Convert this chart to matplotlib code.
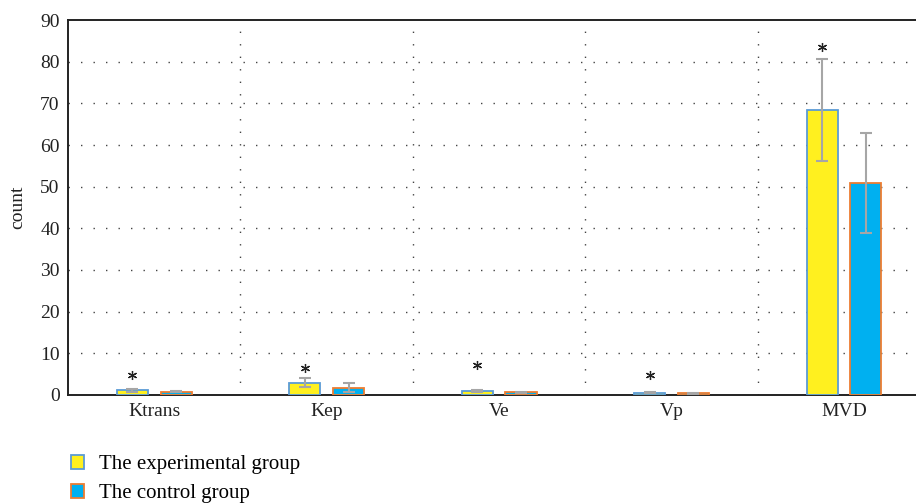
import numpy as np
import matplotlib.pyplot as plt
from matplotlib.patches import Patch

plt.rcParams['font.family'] = ['Liberation Serif', 'DejaVu Serif']

categories = ['Ktrans', 'Kep', 'Ve', 'Vp', 'MVD']
exp_mean = [1.1, 2.9, 1.0, 0.5, 68.4]
exp_err = [0.3, 1.1, 0.3, 0.1, 12.2]
ctrl_mean = [0.8, 1.7, 0.6, 0.4, 50.9]
ctrl_err = [0.2, 1.1, 0.2, 0.1, 12.1]
star_y = [4.7, 6.4, 7.3, 4.9, 83.5]

x = np.arange(len(categories))
w = 0.18
off = 0.127

fig = plt.figure(figsize=(9.16, 5.04), dpi=100)
ax = fig.add_axes([0.0742, 0.2163, 0.93, 0.744])

ax.bar(x - off, exp_mean, w, color='#FFF01F', edgecolor='#5B9BD5', linewidth=1.3, zorder=3)
ax.bar(x + off, ctrl_mean, w, color='#00B0F0', edgecolor='#ED7D31', linewidth=1.3, zorder=3)
ax.errorbar(x - off, exp_mean, yerr=exp_err, fmt='none', ecolor='#A6A6A6', elinewidth=1.5,
            capsize=4.5, capthick=1.5, zorder=4)
ax.errorbar(x + off, ctrl_mean, yerr=ctrl_err, fmt='none', ecolor='#A6A6A6', elinewidth=1.5,
            capsize=4.5, capthick=1.5, zorder=4)

# significance stars
ax.plot(x - off, star_y, linestyle='none', marker=(6, 2, 0), markersize=6.5, mew=0.9,
        color='#222222', zorder=5)

ax.set_xlim(-0.5, 4.44)
ax.set_ylim(0, 90)
ax.set_yticks(range(0, 91, 10))
ax.set_xticks(x)
ax.set_xticklabels(categories)
ax.tick_params(length=0, labelsize=14, colors='#222222', pad=6)
ax.set_ylabel('count', fontsize=14, color='#222222', labelpad=10)

for yv in range(10, 90, 10):
    ax.axhline(yv, color='#444444', linestyle=(0, (1, 8)), linewidth=1, zorder=1)
for xv in [0.5, 1.5, 2.5, 3.5]:
    ax.axvline(xv, color='#444444', linestyle=(0, (1, 8)), linewidth=1, zorder=1)

for s in ['top', 'left', 'bottom', 'right']:
    ax.spines[s].set_linewidth(1.4)
    ax.spines[s].set_color('#222222')

handles = [Patch(facecolor='#FFF01F', edgecolor='#5B9BD5', linewidth=1.3),
           Patch(facecolor='#00B0F0', edgecolor='#ED7D31', linewidth=1.3)]
fig.legend(handles, ['The experimental group', 'The control group'], loc='upper left',
           bbox_to_anchor=(0.077, 0.098), frameon=False, fontsize=15, handlelength=0.65,
           handleheight=0.7, handletextpad=0.7, labelspacing=0.45, borderpad=0, borderaxespad=0)

fig.savefig('out.png', dpi=100)
